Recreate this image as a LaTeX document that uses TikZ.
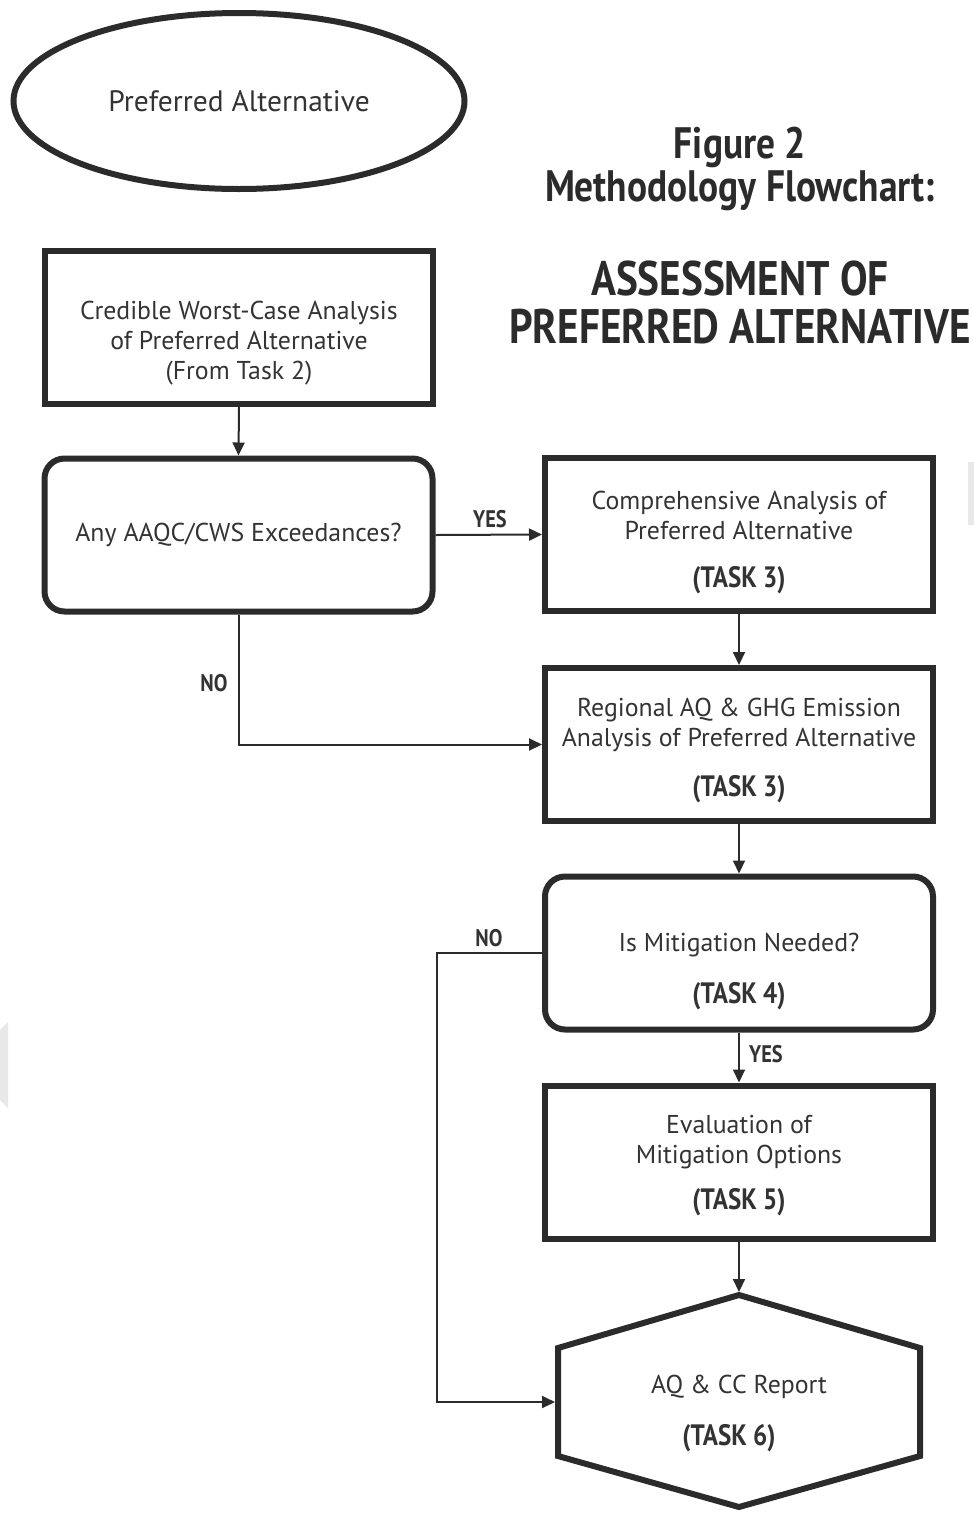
\documentclass[tikz,border=0pt]{standalone}
\usepackage{fontspec}
\setmainfont{PT Sans}
\newfontfamily\condfont[FakeStretch=0.85]{PT Sans}
\newfontfamily\bodyfont{PT Sans}
\usetikzlibrary{shapes.geometric,arrows.meta}
\definecolor{ink}{HTML}{2B2B2B}
\definecolor{txt}{HTML}{333333}
\begin{document}
\begin{tikzpicture}[x=1pt,y=-1pt,
  box/.style={draw=ink, line width=6pt, minimum width=388pt, minimum height=153pt, inner sep=0pt},
  rbox/.style={box, rounded corners=20pt},
  conn/.style={draw=ink, line width=2pt, -{Triangle[length=13pt,width=12pt]}},
  body/.style={text=txt, align=center, font=\bodyfont\fontsize{25.8}{30}\selectfont},
  task/.style={text=txt, font=\condfont\bfseries\fontsize{29.5}{30}\selectfont},
  lab/.style={text=txt, font=\condfont\bfseries\fontsize{24}{26}\selectfont},
  ttl/.style={text=ink, align=center, font=\condfont\bfseries}]
\useasboundingbox (0,0) rectangle (974,1513);
% faint watermark fragments at the edges
\fill[gray!18] (968,462) rectangle (974,525);
\fill[gray!18] (0,1030) -- (8,1022) -- (8,1108) -- (0,1100) -- cycle;

% start ellipse
\node[ellipse, draw=ink, line width=6pt, minimum width=451pt, minimum height=176pt, inner sep=0pt] (pa) at (239,101) {};
\node[body, font=\bodyfont\fontsize{29.5}{32}\selectfont] (patext) at (239,101) {Preferred Alternative};

% titles
\node[ttl, font=\condfont\bfseries\fontsize{44}{43}\selectfont] (title1) at (740,169) {Figure 2\\Methodology Flowchart:};
\node[ttl, font=\condfont\bfseries\fontsize{48.5}{48}\selectfont] (title2) at (740,302) {ASSESSMENT OF\\PREFERRED ALTERNATIVE};

% boxes
\node[box] (b1) at (239,327) {};
\node[body] (b1t) at (239,343) {Credible Worst-Case Analysis\\of Preferred Alternative\\(From Task 2)};

\node[rbox] (b2) at (238.5,535) {};
\node[body] (b2t) at (238.5,535) {Any AAQC/CWS Exceedances?};

\node[box] (b3) at (739,534.5) {};
\node[body] (b3t) at (739,515) {Comprehensive Analysis of\\Preferred Alternative};
\node[task] (b3k) at (739,580) {(TASK 3)};

\node[box] (b4) at (739,744.5) {};
\node[body] (b4t) at (739,725) {Regional AQ \& GHG Emission\\Analysis of Preferred Alternative};
\node[task] (b4k) at (739,789) {(TASK 3)};

\node[rbox] (b5) at (739,953) {};
\node[body] (b5t) at (739,945) {Is Mitigation Needed?};
\node[task] (b5k) at (739,996) {(TASK 4)};

\node[box] (b6) at (739,1162) {};
\node[body] (b6t) at (739,1142.5) {Evaluation of\\Mitigation Options};
\node[task] (b6k) at (739,1202) {(TASK 5)};

% hexagon
\draw[ink, line width=6pt, line join=miter] (558,1348) -- (739,1295) -- (920,1348) -- (920,1456) -- (739,1507) -- (558,1456) -- cycle;
\node[minimum width=368pt, minimum height=108pt, inner sep=0pt, outer sep=0pt] (hex) at (739,1402) {};
\coordinate (hextop) at (739,1292);
\node[body] (hext) at (739,1387) {AQ \& CC Report};
\node[task] (hexk) at (729,1438) {(TASK 6)};

% connectors
\draw[conn] (b1.south) -- (b2.north);
\draw[conn] (b2.east) -- (b3.west);
\node[lab] (yes1) at (490,519) {YES};
\draw[conn] (b2.south) |- (b4.west);
\node[lab] (no1) at (214,683) {NO};
\draw[conn] (b3.south) -- (b4.north);
\draw[conn] (b4.south) -- (b5.north);
\draw[conn] (b5.south) -- (b6.north);
\node[lab] (yes2) at (766,1054) {YES};
\draw[conn] (b6.south) -- (hextop);
\coordinate (noturn) at (437,953);
\draw[conn] (b5.west) -- (noturn) |- (hex.west);
\node[lab] (no2) at (489,938) {NO};
\end{tikzpicture}
\end{document}
